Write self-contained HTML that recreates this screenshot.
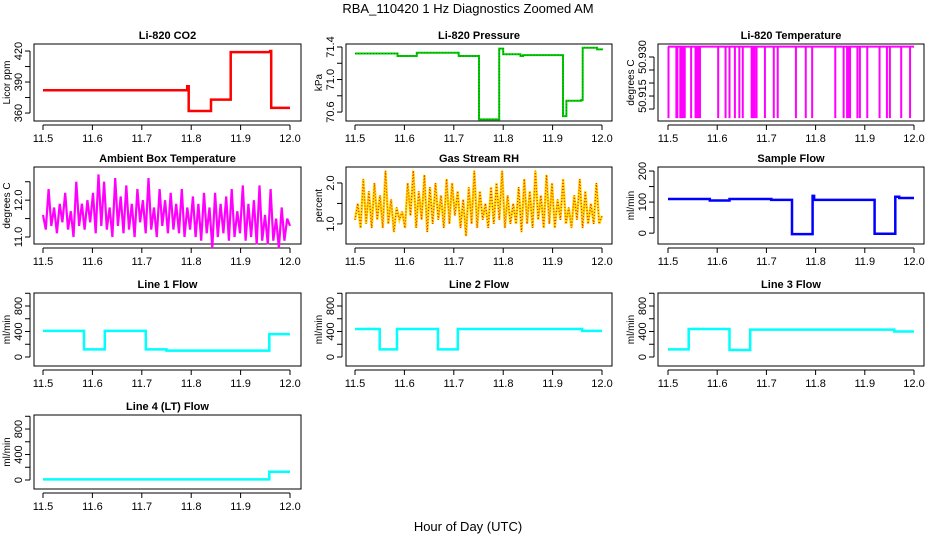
<!DOCTYPE html>
<html><head><meta charset="utf-8">
<style>
body{margin:0;background:#fff;}
svg{display:block;font-family:"Liberation Sans",sans-serif;}
</style></head>
<body>
<svg id="c" width="936" height="540" viewBox="0 0 936 540">
<text x="468" y="13" text-anchor="middle" font-size="13">RBA_110420  1 Hz Diagnostics Zoomed AM</text>
<text x="468" y="531" text-anchor="middle" font-size="13">Hour of Day (UTC)</text>
</svg>
<script>
// ---- data arrays (step series: time, value) ----
const xTicks = [11.5, 11.6, 11.7, 11.8, 11.9, 12.0];
const xTickLabels = ["11.5", "11.6", "11.7", "11.8", "11.9", "12.0"];

const co2Times = [11.5, 11.79, 11.792, 11.795, 11.838, 11.84, 11.878, 11.88, 11.96, 11.962, 12.0];
const co2Values = [382, 382, 386, 362, 362, 373, 373, 419, 420, 365, 365];

const pressTimes = [11.5, 11.585, 11.586, 11.625, 11.71, 11.75, 11.751, 11.79, 11.792, 11.8, 11.835, 11.84, 11.88, 11.918, 11.921, 11.928, 11.958, 11.961, 11.99, 12.0];
const pressValues = [71.32, 71.32, 71.29, 71.33, 71.29, 71.29, 70.51, 70.51, 71.38, 71.31, 71.29, 71.30, 71.30, 71.30, 70.55, 70.74, 70.75, 71.39, 71.37, 71.36];

const tempTop = 50.934;
const tempLow = 50.9065;
const tempDropTimes = [11.501, 11.517, 11.519, 11.525, 11.528, 11.531, 11.534, 11.547, 11.556, 11.559, 11.562, 11.565, 11.602, 11.617, 11.625, 11.636, 11.645, 11.652, 11.67, 11.673, 11.676, 11.68, 11.697, 11.715, 11.723, 11.76, 11.78, 11.793, 11.84, 11.857, 11.864, 11.867, 11.87, 11.885, 11.89, 11.905, 11.93, 11.945, 11.951, 11.974, 11.992];

const ambientValues = [11.6,11.2,12.3,11.3,11.8,11.1,11.9,11.4,12.2,11.2,11.7,11.0,12.5,11.3,11.9,11.2,12.0,11.4,12.2,11.1,12.7,11.3,12.5,11.2,11.8,11.0,12.6,11.3,12.1,11.1,12.4,11.2,11.9,11.0,12.3,11.4,12.0,11.1,12.6,11.2,11.8,11.0,12.3,11.3,12.0,11.1,12.2,11.2,11.9,11.1,12.3,11.0,11.8,11.2,12.1,11.0,11.9,10.9,12.2,11.1,11.8,10.7,12.2,11.0,11.9,11.1,12.1,10.9,12.3,11.0,11.7,11.1,12.4,10.9,11.9,11.0,12.0,10.8,12.4,10.9,11.6,10.8,12.3,10.9,11.5,10.7,11.8,10.9,11.5,11.3];
const rhValues = [1.1,1.5,0.9,2.1,1.0,1.8,0.9,2.0,1.1,1.7,0.9,2.3,1.0,1.6,0.8,1.4,1.1,1.3,0.9,2.0,1.2,2.3,0.9,1.8,1.1,2.2,0.8,1.9,1.0,2.0,1.1,1.7,0.9,2.1,1.0,2.0,1.2,1.8,0.9,1.6,0.7,1.9,1.0,2.3,0.9,1.8,1.1,1.5,0.9,1.9,1.0,2.0,1.1,2.3,0.9,1.7,1.0,1.5,1.0,1.9,0.8,2.1,1.0,1.8,0.9,2.3,1.1,1.7,0.9,2.2,1.0,2.0,0.9,1.6,1.1,2.1,1.0,1.4,0.9,1.7,1.1,2.1,0.9,1.8,1.0,1.5,1.0,2.0,1.0,1.2];

const sampleTimes = [11.5, 11.585, 11.625, 11.71, 11.75, 11.752, 11.792, 11.794, 11.797, 11.918, 11.92, 11.958, 11.962, 11.97, 12.0];
const sampleValues = [110, 105, 110, 107, 107, -3, -3, 120, 107, 107, -2, -2, 117, 113, 113];

const line1Times = [11.5, 11.583, 11.625, 11.708, 11.75, 11.958, 12.0];
const line1Values = [410, 120, 410, 120, 100, 360, 360];
const line2Times = [11.5, 11.55, 11.585, 11.668, 11.708, 11.96, 12.0];
const line2Values = [440, 120, 440, 120, 440, 410, 410];
const line3Times = [11.5, 11.542, 11.625, 11.667, 11.96, 12.0];
const line3Values = [120, 440, 110, 430, 400, 400];
const line4Times = [11.5, 11.958, 12.0];
const line4Values = [10, 130, 130];

// ---- layout ----
const NS = "http://www.w3.org/2000/svg";
const svg = document.getElementById("c");
const colBox = [[34,301],[346,612],[658,924]];
const colX = [[43,290],[355,602],[668,914]];
const rowBox = [[44,121],[167,244],[293,366],[415,489]];

function mk(tag, attrs, parent){
  const e = document.createElementNS(NS, tag);
  for (const k in attrs) e.setAttribute(k, attrs[k]);
  (parent||svg).appendChild(e);
  return e;
}

function panel(name, title, ylabel, col, row, ylim, yTicks, yTickLabels){
  const g = mk("g", {});
  
  
  const [bx0,bx1] = colBox[col], [by0,by1] = rowBox[row];
  const [ax0,ax1] = colX[col];
  const sx = v => ax0 + (v-11.5)/(0.5)*(ax1-ax0);
  const sy = v => by1 - (v-ylim[0])/(ylim[1]-ylim[0])*(by1-by0);
  const t = mk("text", {x:(bx0+bx1)/2, y:by0-5, "text-anchor":"middle", "font-size":11, "font-weight":"bold"}, g);
  t.textContent = title;
  
  
  const box = mk("rect", {x:bx0, y:by0, width:bx1-bx0, height:by1-by0, fill:"none", stroke:"#000", "stroke-width":1}, g);
  
  
  const xa = mk("g", {}, g);
  
  
  mk("line", {x1:sx(11.5), x2:sx(12.0), y1:by1+4, y2:by1+4, stroke:"#000"}, xa);
  xTicks.forEach((v,i)=>{
    mk("line", {x1:sx(v), x2:sx(v), y1:by1+4, y2:by1+9, stroke:"#000"}, xa);
    const l = mk("text", {x:sx(v), y:by1+21, "text-anchor":"middle", "font-size":11}, xa);
    l.textContent = xTickLabels[i];
  });
  const ya = mk("g", {}, g);
  
  
  mk("line", {x1:bx0-4, x2:bx0-4, y1:sy(yTicks[0]), y2:sy(yTicks[yTicks.length-1]), stroke:"#000"}, ya);
  yTicks.forEach((v,i)=>{
    mk("line", {x1:bx0-9, x2:bx0-4, y1:sy(v), y2:sy(v), stroke:"#000"}, ya);
    if (yTickLabels[i]) {
      const l = mk("text", {x:0, y:0, "text-anchor":"middle", "font-size":11,
        transform:`translate(${bx0-12},${sy(v)}) rotate(-90)`}, ya);
      l.textContent = yTickLabels[i];
    }
  });
  const yl = mk("text", {x:0, y:0, "text-anchor":"middle", "font-size":10,
    transform:`translate(${bx0-24},${(by0+by1)/2}) rotate(-90)`}, g);
  yl.textContent = ylabel;
  
  
  return {g, sx, sy};
}

function stepPath(p, times, values){
  let d = "";
  for (let i=0;i<times.length;i++){
    const x = p.sx(times[i]).toFixed(1), y = p.sy(values[i]).toFixed(1);
    if (i===0) d += `M${x},${y}`;
    else d += `H${x}V${y}`;
  }
  return d;
}
function seriesPath(p, values){
  let d = "";
  values.forEach((v,i)=>{
    const t = 11.5 + 0.5*i/(values.length-1);
    d += (i?"L":"M") + p.sx(t).toFixed(1) + "," + p.sy(v).toFixed(1);
  });
  return d;
}
function addLine(p, d, color, w, name, dash){
  const path = mk("path", {d, fill:"none", stroke:color, "stroke-width":w}, p.g);
  if (dash) path.setAttribute("stroke-dasharray", dash);
  
  
  return path;
}

let p = panel("co2", "Li-820 CO2", "Licor ppm", 0, 0, [352.3, 426.8], [360,375,390,405,420], ["360","","390","","420"]);
addLine(p, stepPath(p, co2Times, co2Values), "#f00", 2.5, "co2-line");

p = panel("pressure", "Li-820 Pressure", "kPa", 1, 0, [70.49, 71.437], [70.6,70.8,71.0,71.2,71.4], ["70.6","","71.0","","71.4"]);
addLine(p, stepPath(p, pressTimes, pressValues), "#0c0", 2, "pressure-line");
addLine(p, stepPath(p, pressTimes, pressValues), "#000", 1, "pressure-dots", "1,2").setAttribute("stroke-opacity", "0.35");

p = panel("li820-temp", "Li-820 Temperature", "degrees C", 2, 0, [50.9054, 50.935], [50.910,50.915,50.920,50.925,50.930], ["","50.915","","","50.930"]);
addLine(p, `M${p.sx(11.5)},${p.sy(tempTop)}H${p.sx(12.0)}`, "#f0f", 2, "li820-temp-line");
tempDropTimes.forEach(t=>{
  const l = mk("line", {x1:p.sx(t), x2:p.sx(t), y1:p.sy(tempTop), y2:p.sy(tempLow), stroke:"#f0f", "stroke-width":2}, p.g);
  
  
});

p = panel("ambient", "Ambient Box Temperature", "degrees C", 0, 1, [10.81, 12.9], [11.0,11.5,12.0,12.5], ["11.0","","12.0",""]);
addLine(p, seriesPath(p, ambientValues), "#f0f", 2.2, "ambient-line");

p = panel("rh", "Gas Stream RH", "percent", 1, 1, [0.51, 2.39], [1.0,1.5,2.0], ["1.0","","2.0"]);
addLine(p, seriesPath(p, rhValues), "#fd0", 2.5, "rh-line");
addLine(p, seriesPath(p, rhValues), "#e22", 1.2, "rh-dots", "1,2");

p = panel("sample-flow", "Sample Flow", "ml/min", 2, 1, [-35, 213], [0,50,100,150,200], ["0","","100","","200"]);
addLine(p, stepPath(p, sampleTimes, sampleValues), "#00f", 2.5, "sample-flow-line");

const flowTicks = [0,200,400,600,800,1000], flowLabels = ["0","","400","","800",""];
p = panel("line1-flow", "Line 1 Flow", "ml/min", 0, 2, [-141, 1004], flowTicks, flowLabels);
addLine(p, stepPath(p, line1Times, line1Values), "#0ff", 2.5, "line1-flow-line");
p = panel("line2-flow", "Line 2 Flow", "ml/min", 1, 2, [-141, 1004], flowTicks, flowLabels);
addLine(p, stepPath(p, line2Times, line2Values), "#0ff", 2.5, "line2-flow-line");
p = panel("line3-flow", "Line 3 Flow", "ml/min", 2, 2, [-141, 1004], flowTicks, flowLabels);
addLine(p, stepPath(p, line3Times, line3Values), "#0ff", 2.5, "line3-flow-line");
p = panel("line4-flow", "Line 4 (LT) Flow", "ml/min", 0, 3, [-141, 1020], flowTicks, flowLabels);
addLine(p, stepPath(p, line4Times, line4Values), "#0ff", 2.5, "line4-flow-line");
</script>
</body></html>
